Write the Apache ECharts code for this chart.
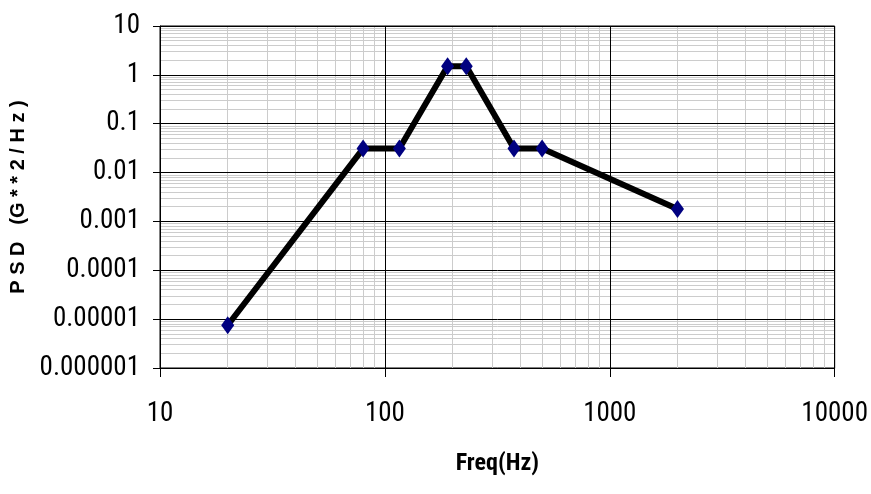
<!DOCTYPE html>
<html>
<head>
<meta charset="utf-8">
<script src="https://cdn.jsdelivr.net/npm/echarts@6/dist/echarts.min.js"></script>
<style>
html,body{margin:0;padding:0;background:#fff;}
#chart{width:871px;height:494px;}
</style>
</head>
<body>
<div id="chart"></div>
<script>
// Data
var freqHz = [20, 80, 116, 190, 230, 375, 500, 2000];
var psd = [0.0000075, 0.031, 0.031, 1.5, 1.5, 0.031, 0.031, 0.0018];

var xTickValues = [10, 100, 1000, 10000];
var xTickLabels = ['10', '100', '1000', '10000'];
var yTickValues = [0.000001, 0.00001, 0.0001, 0.001, 0.01, 0.1, 1, 10];
var yTickLabels = ['0.000001', '0.00001', '0.0001', '0.001', '0.01', '0.1', '1', '10'];

function minorValues(lo, hi) {
  var out = [];
  for (var d = lo; d < hi * 0.999; d *= 10) {
    for (var k = 2; k <= 9; k++) out.push(+(k * d).toPrecision(6));
  }
  return out;
}
function labelFor(values, labels) {
  return function (v) {
    var best = 0, bd = Infinity;
    for (var i = 0; i < values.length; i++) {
      var dd = Math.abs(Math.log10(v) - Math.log10(values[i]));
      if (dd < bd) { bd = dd; best = i; }
    }
    return bd < 0.01 ? labels[best] : '';
  };
}

var narrow = "'Liberation Sans Narrow', 'Arial Narrow', 'Roboto Condensed', 'Liberation Sans', sans-serif";
var chart = echarts.init(document.getElementById('chart'), null, {renderer: 'canvas'});
var data = freqHz.map(function (f, i) { return [f, psd[i]]; });

chart.setOption({
  animation: false,
  backgroundColor: '#fff',
  grid: {left: 160, right: 34, top: 26, bottom: 126, containLabel: false,
         show: true, borderColor: '#000', borderWidth: 1, backgroundColor: 'transparent'},
  xAxis: [{
    type: 'log', logBase: 10, min: 10, max: 10000, gridIndex: 0,
    name: 'Freq(Hz)', nameLocation: 'middle', nameGap: 84,
    nameTextStyle: {fontFamily: narrow, fontWeight: 'bold', fontSize: 24, color: '#000'},
    axisLine: {show: true, onZero: false, lineStyle: {color: '#000', width: 1}},
    axisTick: {show: true, inside: false, length: 9, customValues: xTickValues, lineStyle: {color: '#000'}},
    axisLabel: {show: true, margin: 33, fontFamily: narrow, fontSize: 27, color: '#000',
                customValues: xTickValues, formatter: labelFor(xTickValues, xTickLabels)},
    splitLine: {show: true, lineStyle: {color: '#000', width: 1}},
    z: 3
  }, {
    type: 'log', logBase: 10, min: 10, max: 10000, gridIndex: 0, position: 'bottom',
    axisLine: {show: false}, axisLabel: {show: false},
    axisTick: {show: false, customValues: minorValues(10, 10000)},
    splitLine: {show: true, lineStyle: {color: '#cccccc', width: 1}},
    z: 1
  }],
  yAxis: [{
    type: 'log', logBase: 10, min: 0.000001, max: 10, gridIndex: 0,
    name: 'P S D   (G * * 2 / H z )', nameLocation: 'middle', nameGap: 130,
    nameTextStyle: {fontFamily: "'Liberation Sans', Arial, sans-serif", fontWeight: 'bold', fontSize: 20, color: '#000'},
    axisLine: {show: true, onZero: false, lineStyle: {color: '#000', width: 1}},
    axisTick: {show: true, inside: false, length: 7, customValues: yTickValues, lineStyle: {color: '#000'}},
    axisLabel: {show: true, margin: 20, fontFamily: narrow, fontSize: 27, color: '#000',
                customValues: yTickValues, formatter: labelFor(yTickValues, yTickLabels)},
    splitLine: {show: true, lineStyle: {color: '#000', width: 1}},
    z: 3
  }, {
    type: 'log', logBase: 10, min: 0.000001, max: 10, gridIndex: 0, position: 'left',
    axisLine: {show: false}, axisLabel: {show: false},
    axisTick: {show: false, customValues: minorValues(0.000001, 10)},
    splitLine: {show: true, lineStyle: {color: '#cccccc', width: 1}},
    z: 1
  }],
  series: [{
    type: 'line', xAxisIndex: 0, yAxisIndex: 0, data: data,
    lineStyle: {color: '#000', width: 6},
    symbol: 'diamond', symbolSize: [13, 18], showSymbol: true,
    itemStyle: {color: '#000080', borderWidth: 0},
    z: 5
  }]
});
</script>
</body>
</html>
